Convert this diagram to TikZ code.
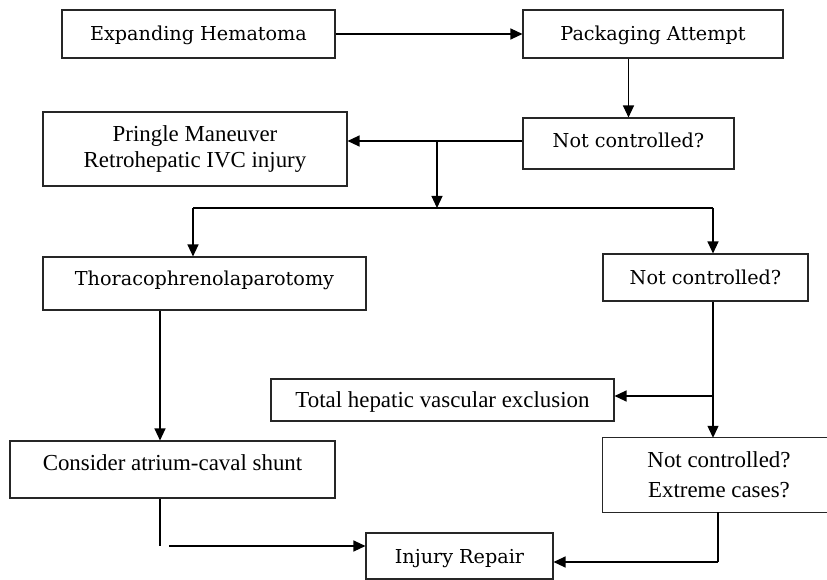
\documentclass[tikz,border=0pt]{standalone}
\usepackage{fontspec}
\setmainfont{Liberation Serif}
\newfontfamily\camfont{DejaVu Serif}
\usetikzlibrary{arrows.meta}
\begin{document}
\begin{tikzpicture}[x=1pt,y=-1pt,
 box/.style={draw=black!85, line width=1.1pt, inner sep=0pt, anchor=center},
 camtext/.style={font=\camfont\fontsize{19.2}{23}\selectfont, text height=14pt, text depth=0pt},
 tmstext/.style={font=\fontsize{22.9}{26}\selectfont},
 tmsone/.style={font=\fontsize{22.9}{26}\selectfont, text height=15pt, text depth=0pt},
 conn/.style={line width=1.2pt, -{Triangle[length=12pt,width=11pt]}},
 plain/.style={line width=1.2pt}]
\useasboundingbox (0,0) rectangle (827,580);
\fill[white] (0,0) rectangle (827,580);
% boxes
\node[box, camtext, minimum width=273pt, minimum height=48pt] (exp) at (198.5,34) {Expanding Hematoma};
\node[box, camtext, minimum width=260pt, minimum height=48pt] (pack) at (653,34) {Packaging Attempt};
\node[box, camtext, text depth=6pt, minimum width=211pt, minimum height=51pt] (nc1) at (628.5,143.5) {Not controlled?};
\node[box, tmstext, align=center, minimum width=304pt, minimum height=74pt] (pring) at (195,149) {Pringle Maneuver\\Retrohepatic IVC injury};
\node[box, camtext, text depth=10pt, minimum width=323pt, minimum height=53pt] (thor) at (204.5,283.5) {Thoracophrenolaparotomy};
\node[box, camtext, minimum width=205pt, minimum height=47pt] (nc2) at (705.5,277.5) {Not controlled?};
\node[box, tmsone, minimum width=343pt, minimum height=42pt] (tot) at (442.5,400) {Total hepatic vascular exclusion};
\node[box, tmsone, text depth=14pt, minimum width=325pt, minimum height=57pt] (cons) at (172.5,469.5) {Consider atrium-caval shunt};
\node[inner sep=0pt, font=\fontsize{22.9}{30}\selectfont, align=center, minimum width=232pt, minimum height=74pt] (nc3) at (719,475) {Not controlled?\\Extreme cases?};
\draw[draw=black!85, line width=1.1pt] ([xshift=-8pt]nc3.north east) -| (nc3.south west) -- ([xshift=-8pt]nc3.south east);
\node[box, camtext, minimum width=187pt, minimum height=46pt] (inj) at (459.5,556) {Injury Repair};
% connectors
\draw[conn] (exp.east) -- (pack.west);
\draw[conn] (pack.south -| nc1.north) -- (nc1.north);
\coordinate (j1) at (437,141);
\draw[plain] (nc1.west |- j1) -- (j1);
\draw[conn] (j1) -- (pring.east |- j1);
\coordinate (j2) at (437,208);
\draw[conn] (j1) -- (j2);
\coordinate (jl) at (193,208);
\coordinate (jr) at (713,208);
\draw[plain] (jl) -- (jr);
\draw[conn] (jl) -- (jl |- thor.north);
\draw[conn] (jr) -- (jr |- nc2.north);
\coordinate (t1) at (160,300);
\draw[conn] (thor.south -| t1) -- (cons.north -| t1);
\draw[conn] (nc2.south -| jr) -- (nc3.north -| jr);
\coordinate (j3) at (713,396);
\draw[conn] (j3) -- (tot.east |- j3);
\coordinate (j4) at (160,546);
\draw[plain] (cons.south -| j4) -- (j4);
\coordinate (j5) at (169,546);
\draw[conn] (j5) -- (inj.west |- j5);
\coordinate (j6) at (718,562);
\draw[plain] (nc3.south -| j6) -- (j6);
\draw[conn] (j6) -- (inj.east |- j6);
\end{tikzpicture}
\end{document}
